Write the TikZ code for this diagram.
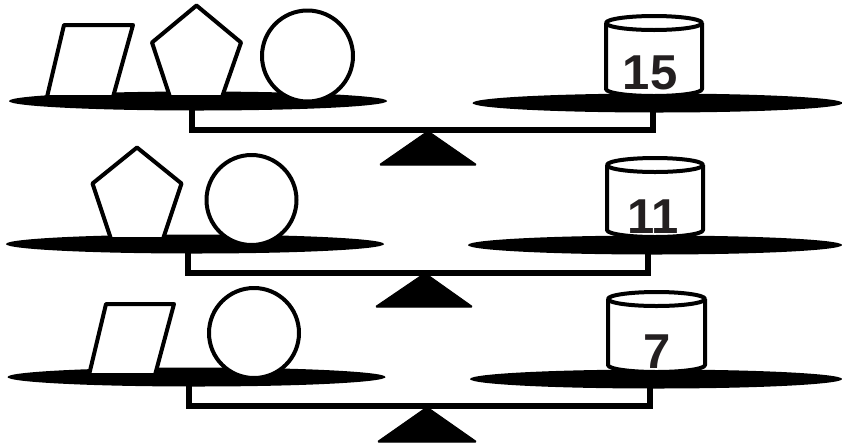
\documentclass[tikz,border=0pt]{standalone}
\usepackage{fontspec}
\setmainfont{Liberation Sans}
\definecolor{ink}{HTML}{231F20}

\begin{document}
\begin{tikzpicture}[x=1pt,y=-1pt,
  plate/.style={fill=black},
  beam/.style={draw=black,line width=6pt,line join=miter},
  fulc/.style={fill=black,draw=black,line width=1pt,line join=round,rounded corners=1.5pt},
  obj/.style={draw=black,fill=white,line width=4pt,line join=round},
  num/.style={font=\fontsize{49}{49}\selectfont\bfseries,text=ink,inner sep=0pt}]
\useasboundingbox (0,0) rectangle (842,445);
% top scale: 15
\draw[beam] (191.5,100) -- (191.5,130) -- (652.5,130) -- (652.5,100);
\fill[fulc] (428,131) -- (477,165) -- (379,165) -- cycle;
\fill[plate] (198,101) ellipse [x radius=189,y radius=9.5];
\fill[plate] (657.5,103) ellipse [x radius=185,y radius=9.5];
\draw[obj] (47,97) -- (113,97) -- (133,25) -- (64,25) -- cycle;
\draw[obj] (196.5,5.5) -- (241,42.5) -- (222,97) -- (170,97) -- (152,42.5) -- cycle;
\draw[obj] (307.5,56) circle [radius=45.5];
\draw[obj] (606,23) -- (606,89) arc [start angle=180,end angle=0,x radius=48,y radius=7] -- (702,23);
\draw[obj] (654,23) ellipse [x radius=48,y radius=7];
\node[num] (w15) at (650,73) {15};
% middle scale: 11
\draw[beam] (187.5,240) -- (187.5,272.5) -- (648,272.5) -- (648,240);
\fill[fulc] (425,273) -- (473,307) -- (375,307) -- cycle;
\fill[plate] (195,244) ellipse [x radius=189,y radius=9.5];
\fill[plate] (655,245) ellipse [x radius=187,y radius=9.5];
\draw[obj] (137,147.5) -- (181.5,183.5) -- (163,239) -- (111,239) -- (92.5,183.5) -- cycle;
\draw[obj] (251.5,200) circle [radius=45];
\draw[obj] (607,165) -- (607,230) arc [start angle=180,end angle=0,x radius=48,y radius=7] -- (703,165);
\draw[obj] (655,165) ellipse [x radius=48,y radius=7];
\node[num] (w11) at (653,217) {11};
% bottom scale: 7
\draw[beam] (189,375) -- (189,406) -- (650,406) -- (650,375);
\fill[fulc] (427,407) -- (477,442) -- (377,442) -- cycle;
\fill[plate] (196.5,377) ellipse [x radius=189,y radius=9.5];
\fill[plate] (656,379) ellipse [x radius=186,y radius=9.5];
\draw[obj] (89,375) -- (155,375) -- (174,304) -- (106,304) -- cycle;
\draw[obj] (254,333) circle [radius=45];
\draw[obj] (608,299) -- (608,365) arc [start angle=180,end angle=0,x radius=48.5,y radius=7] -- (705,299);
\draw[obj] (656.5,299) ellipse [x radius=48.5,y radius=7];
\node[num] (w7) at (657,352) {7};
\end{tikzpicture}
\end{document}
